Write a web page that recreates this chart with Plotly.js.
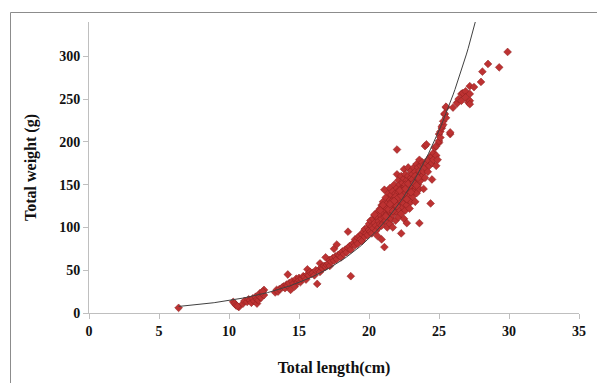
<!DOCTYPE html>
<html>
<head>
<meta charset="utf-8">
<script src="https://cdn.plot.ly/plotly-3.0.1.min.js"></script>
<style>html,body{margin:0;padding:0;background:#fff;}#chart{width:597px;height:383px;}</style>
</head>
<body>
<div id="chart"></div>
<script>
// Total length (cm)
const lengthCm = [
 6.4,10.3,10.4,10.5,10.7,10.6,11.0,11.1,11.3,11.4,11.5,11.6,11.7,11.8,11.9,12.0,12.0,12.1,12.2,12.2,12.3,12.4,12.5,12.5,12.4,
 13.3,13.4,13.5,13.6,13.8,13.9,14.0,14.1,14.2,14.2,14.3,14.4,14.5,14.6,14.7,14.8,14.8,14.9,15.0,15.0,
 15.1,15.2,15.3,15.4,15.5,15.6,15.6,15.7,15.8,15.9,16.0,16.1,16.2,16.3,16.4,16.5,16.5,16.6,16.7,16.8,16.9,16.9,17.0,17.1,17.2,17.2,17.3,17.4,17.5,17.5,17.6,17.7,17.7,17.8,17.9,18.0,18.0,18.1,18.2,18.3,18.4,18.5,18.5,18.6,18.7,18.7,18.8,18.9,19.0,19.0,
 19.1,19.2,19.2,19.3,19.4,19.5,19.5,19.6,19.7,19.7,19.8,19.9,19.9,20.0,20.0,20.1,20.1,20.2,20.2,20.3,20.3,20.4,20.4,20.5,20.5,
 20.6,20.6,20.6,20.7,20.7,20.8,20.8,20.8,20.9,20.9,20.9,21.0,21.0,21.0,21.1,21.1,21.1,21.1,21.2,21.2,21.2,21.3,21.3,21.3,21.4,21.4,21.4,21.5,21.5,21.5,21.5,21.6,21.6,21.6,21.7,21.7,21.7,21.7,21.8,21.8,21.8,21.9,21.9,21.9,22.0,22.0,22.0,22.0,22.0,
 22.1,22.1,22.1,22.1,22.2,22.2,22.2,22.3,22.3,22.3,22.3,22.3,22.4,22.4,22.4,22.5,22.5,22.5,22.5,22.5,22.6,22.6,22.6,22.6,22.7,22.7,22.7,22.7,22.8,22.8,22.8,22.8,22.9,22.9,22.9,23.0,23.0,23.0,23.0,
 23.1,23.1,23.1,23.2,23.2,23.2,23.3,23.3,23.3,23.4,23.4,23.4,23.5,23.5,23.5,23.6,23.6,23.6,23.6,23.7,23.7,23.8,23.8,23.9,23.9,23.9,24.0,24.0,24.0,24.1,24.1,24.2,24.2,24.3,24.4,24.4,24.5,24.5,24.5,24.6,24.6,24.7,24.8,24.8,24.8,24.9,
 25.0,25.0,25.0,25.1,25.1,25.2,25.2,25.3,25.3,25.4,25.4,25.5,25.5,25.5,25.8,25.8,26.0,26.3,26.3,26.4,26.6,26.6,26.7,26.9,26.9,27.1,27.2,27.2,27.2,27.2,27.5,28.0,28.1,28.5,29.3,29.9,
 20.4,20.8,21.0,21.3,21.6,21.9,22.2,22.4,22.6,22.9,23.1,23.3,21.2,21.8,22.1,22.5,22.8,23.2,20.9,21.4,21.7,22.0,22.3,22.7,23.0,23.4,21.5,22.2,22.6,23.5
];
// Total weight (g)
const weightG = [
 6,13,11,9,7,8,11,14,13,16,15,12,17,14,19,11,16,15,23,19,18,22,21,27,25,
 24,27,25,28,30,31,29,33,45,32,35,27,37,34,31,38,40,36,41,38,
 36,40,43,42,39,51,45,44,48,46,47,44,50,34,50,58,48,53,52,55,65,54,56,58,62,55,60,64,75,61,66,80,63,68,67,70,65,72,69,74,71,95,76,78,43,74,80,82,86,79,
 84,88,81,90,86,92,84,95,89,98,93,100,91,97,104,95,108,101,93,110,99,105,114,102,96,
 90,112,118,107,100,115,122,104,86,110,126,118,105,130,77,112,124,144,108,120,135,100,116,128,112,124,140,104,118,132,146,110,122,138,115,128,142,100,120,134,150,108,125,140,191,162,118,132,146,
 112,128,141,155,120,136,150,93,116,130,145,160,124,138,152,110,128,143,157,168,120,134,148,162,105,126,140,155,132,146,160,170,122,138,152,130,145,158,166,
 136,150,162,142,155,170,130,148,165,140,158,174,170,150,162,105,145,179,166,155,172,160,176,145,165,173,195,170,158,197,175,179,165,172,183,128,175,183,156,187,179,193,184,195,172,179,
 199,209,201,205,212,216,218,220,224,232,233,228,240,241,209,211,240,246,245,250,256,248,257,259,252,246,265,256,248,244,264,270,282,291,287,305,
 115,120,126,122,130,136,144,140,150,148,156,160,113,131,135,139,151,152,102,121,119,125,137,133,141,149,127,143,145,158
];

// Exponential trendline fitted to the data (least squares on ln W)
function expFit(xs, ys) {
  const n = xs.length;
  let sx = 0, sy = 0, sxx = 0, sxy = 0;
  for (let i = 0; i < n; i++) {
    const ly = Math.log(ys[i]);
    sx += xs[i]; sy += ly; sxx += xs[i] * xs[i]; sxy += xs[i] * ly;
  }
  const b = (n * sxy - sx * sy) / (n * sxx - sx * sx);
  const a = Math.exp((sy - b * sx) / n);
  return {a, b};
}
const fit = expFit(lengthCm, weightG);
const xMin = Math.min(...lengthCm), xMax = Math.max(...lengthCm);
const fitX = [], fitY = [];
for (let i = 0; i <= 200; i++) {
  const x = xMin + (xMax - xMin) * i / 200;
  fitX.push(x); fitY.push(fit.a * Math.exp(fit.b * x));
}

const serif = '"Times New Roman", "Liberation Serif", serif';
const traces = [
  {
    x: lengthCm, y: weightG, type: 'scatter', mode: 'markers',
    marker: {symbol: 'diamond', size: 6, color: '#bd3232', line: {color: '#8a1f1f', width: 0.5}},
    showlegend: false, hoverinfo: 'x+y'
  },
  {
    x: fitX, y: fitY, type: 'scatter', mode: 'lines',
    line: {color: '#404040', width: 1},
    showlegend: false, hoverinfo: 'skip'
  }
];

const layout = {
  width: 597, height: 383,
  margin: {l: 89, r: 18, t: 22, b: 70},
  paper_bgcolor: '#ffffff', plot_bgcolor: '#ffffff',
  showlegend: false,
  xaxis: {
    range: [0, 35], tickvals: [0,5,10,15,20,25,30,35], ticktext: ['0','5','10','15','20','25','30','35'],
    showgrid: false, zeroline: false,
    showline: true, linecolor: '#bfbfbf', linewidth: 1,
    ticks: 'outside', ticklen: 5, tickcolor: '#bfbfbf',
    tickfont: {family: serif, size: 14, color: '#111', weight: 'bold'},
    title: {text: 'Total length(cm)', font: {family: serif, size: 16, color: '#111', weight: 'bold'}, standoff: 24},
    automargin: false
  },
  yaxis: {
    range: [0, 340], tickvals: [0,50,100,150,200,250,300], ticktext: ['0','50','100','150','200','250','300'],
    showgrid: false, zeroline: false,
    showline: true, linecolor: '#bfbfbf', linewidth: 1,
    ticks: 'outside', ticklen: 5, tickcolor: '#bfbfbf',
    tickfont: {family: serif, size: 14, color: '#111', weight: 'bold'},
    title: {text: 'Total weight (g)', font: {family: serif, size: 16, color: '#111', weight: 'bold'}, standoff: 18},
    automargin: false
  },
  shapes: [{
    type: 'rect', xref: 'paper', yref: 'paper',
    x0: (10.5 - 89) / 490, x1: (620 - 89) / 490,
    y0: (313 - 400) / 291, y1: (313 - 12.5) / 291,
    line: {color: '#8c8c8c', width: 1}, fillcolor: 'rgba(0,0,0,0)', layer: 'below'
  }]
};

Plotly.newPlot('chart', traces, layout, {displayModeBar: false, staticPlot: true});
</script>
</body>
</html>
